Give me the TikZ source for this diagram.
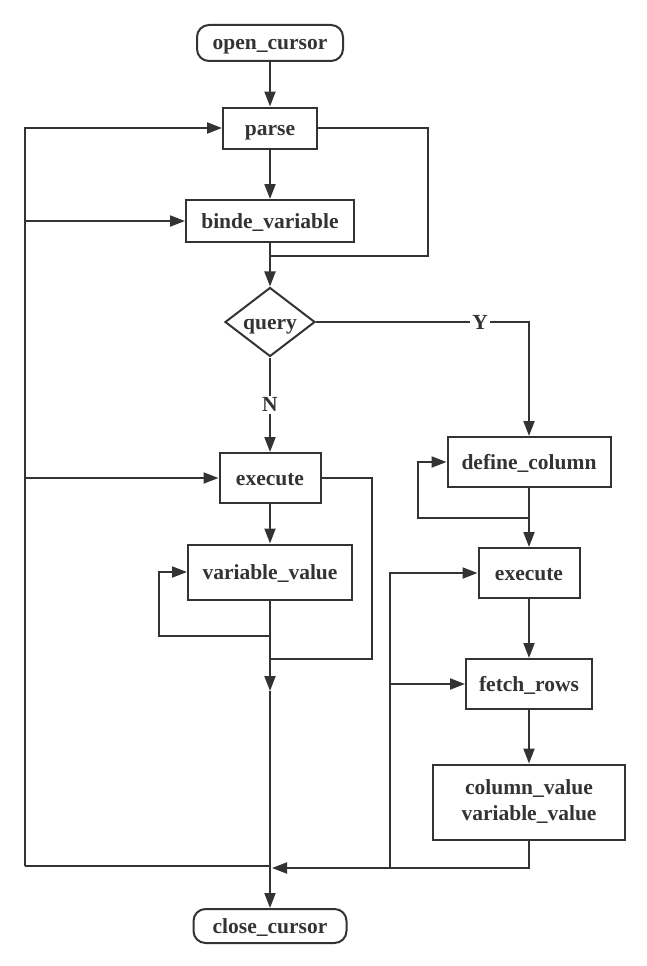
\documentclass[tikz,border=0pt]{standalone}
\usepackage{fontspec}
\setmainfont{Liberation Serif}
\usetikzlibrary{shapes.geometric}
\usetikzlibrary{arrows.meta}
\definecolor{ink}{HTML}{333333}
\tikzset{
    flow/.style={
        draw=ink,
        line width=2pt,
        text=ink,
        font=\fontsize{21.5}{26}\selectfont\bfseries,
        text height=18pt,
        text depth=4pt,
        inner sep=0pt
    },
    proc/.style={
        flow,
        rectangle
    },
    term/.style={
        flow,
        rectangle,
        rounded corners=12pt
    },
    test/.style={
        flow,
        diamond,
        shape aspect=1.3
    },
    branch/.style={
        fill=white,
        text=ink,
        font=\fontsize{21.5}{26}\selectfont\bfseries,
        inner sep=2pt
    }
}

\begin{document}
\begin{tikzpicture}[x=1pt,y=-1pt,color=ink,line width=2pt,>={Triangle[length=15pt,width=11pt]}]
        \useasboundingbox (0,0) rectangle (647,966);
        \node[term,minimum width=146pt,minimum height=36pt] (open) at (270,43) {open\_cursor};
        \node[proc,minimum width=94pt,minimum height=41pt] (parse) at (270,128) {parse};
        \node[proc,minimum width=168pt,minimum height=42pt] (bind) at (270,221) {binde\_variable};
        \node[test,minimum width=90pt,minimum height=69pt] (query) at (270,322) {query};
        \node[proc,minimum width=101pt,minimum height=50pt] (execA) at (270,478) {execute};
        \node[proc,minimum width=164pt,minimum height=55pt] (varval) at (270,572) {variable\_value};
        \node[proc,minimum width=163pt,minimum height=50pt] (defcol) at (529,462) {define\_column};
        \node[proc,minimum width=101pt,minimum height=50pt] (execB) at (529,573) {execute};
        \node[proc,minimum width=126pt,minimum height=50pt] (fetch) at (529,684) {fetch\_rows};
        \node[proc,align=center,text height=,text depth=,minimum width=192pt,minimum height=75pt] (colval) at (529,802) {column\_value\\variable\_value};
        \node[term,minimum width=153pt,minimum height=34pt] (close) at (270,926) {close\_cursor};

        \coordinate (parseR) at (428,128);
        \coordinate (parseJ) at (270,256);
        \coordinate (execR) at (372,478);
        \coordinate (execJ) at (270,659);
        \coordinate (varJ) at (270,636);
        \coordinate (varL) at (159,572);
        \coordinate (midTip) at (270,691);
        \coordinate (colJ) at (529,518);
        \coordinate (colL) at (418,462);
        \coordinate (leftJ) at (270,866);
        \coordinate (leftB) at (25,866);
        \coordinate (rightTip) at (272,868);
        \coordinate (loopB) at (390,868);

        \path[draw,->] (open) edge (parse);
        \path[draw,->] (parse) edge (bind);
        \path[draw,->] (bind) edge (query);
        \draw (parse.east) -- (parseR) |- (parseJ);
        \draw[->] (query.east) -| node[branch,pos=0.385] {Y} (defcol.north);
        \draw[->] (query.south) -- node[branch] {N} (execA.north);

        \path[draw,->] (execA) edge (varval);
        \draw (execA.east) -- (execR) |- (execJ);
        \draw[->] (varval.south) -- (midTip);
        \draw[->] (midTip) -- (close.north);
        \draw[->] (varJ) -| (varL) -- (varval.west);

        \path[draw,->] (defcol) edge (execB);
        \draw[->] (colJ) -| (colL) -- (defcol.west);
        \path[draw,->] (execB) edge (fetch);
        \path[draw,->] (fetch) edge (colval);
        \draw[->] (colval.south) |- (rightTip);
        \draw[->] (loopB) |- (execB.west);
        \draw[->] (loopB |- fetch.west) -- (fetch.west);

        \draw (leftJ) -- (leftB);
        \draw[->] (leftB) |- (parse.west);
        \draw[->] (leftB |- bind.west) -- (bind.west);
        \draw[->] (leftB |- execA.west) -- (execA.west);
    \end{tikzpicture}
\end{document}
